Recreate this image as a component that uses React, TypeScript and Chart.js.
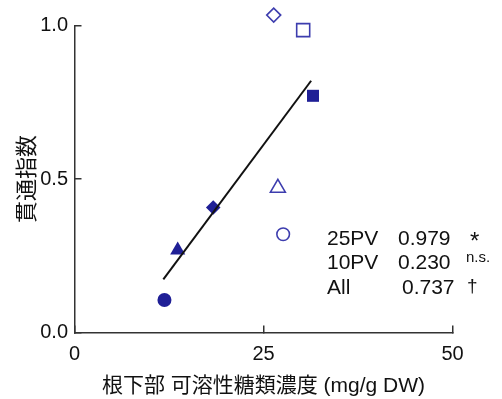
import React, { useEffect, useRef } from "react";
import { Chart, registerables } from "chart.js";

Chart.register(...registerables);

// ---- data ----
const xTicks = [0, 25, 50];
const yTicks = [0, 0.5, 1.0];
const xTitle = "根下部 可溶性糖類濃度 (mg/g DW)";
const yTitle = "貫通指数";

const filledX = [11.9, 13.65, 18.35, 31.55];
const filledY = [0.106, 0.268, 0.407, 0.771];
const filledShapes = ["circle", "triangle", "rectRot", "rect"];

const openX = [26.35, 30.25, 26.9, 27.6];
const openY = [1.034, 0.985, 0.471, 0.32];
const openShapes = ["rectRot", "rect", "triangle", "circle"];

const fitX = [11.75, 31.3];
const fitY = [0.173, 0.82];

const statLabels = ["25PV", "10PV", "All"];
const statValues = ["0.979", "0.230", "0.737"];
const statMarks = ["*", "n.s.", "†"];

const FONT = "'Liberation Sans', 'Noto Sans CJK JP', Arial, sans-serif";
const AXIS = "#333333";
const FILLED = "#1f1f96";
const OPEN = "#3d3dae";

const radiusFor = (s: string, open: boolean) => {
  if (s === "circle") return open ? 6.3 : 7;
  if (s === "triangle") return open ? 8.6 : 8.7;
  if (s === "rectRot") return open ? 7 : 7.3;
  return open ? 9.2 : 8.5;
};

// let markers that sit just above the top of the axis (value > 1.0) still be drawn
const overflowPlugin = {
  id: "overflow",
  beforeDatasetsDraw(chart: any) {
    const a = chart.chartArea;
    chart.$savedArea = a;
    chart.chartArea = { ...a, top: a.top - 25 };
  },
  afterDatasetsDraw(chart: any) {
    if (chart.$savedArea) chart.chartArea = chart.$savedArea;
  },
};

const statsPlugin = {
  id: "stats",
  afterDraw(chart: any) {
    const ctx = chart.ctx;
    ctx.save();
    ctx.fillStyle = "#111";
    ctx.textBaseline = "alphabetic";
    ctx.textAlign = "left";
    const baselines = [244.5, 269, 293.5];
    statLabels.forEach((lab, i) => {
      ctx.font = `21px ${FONT}`;
      ctx.fillText(lab, 327, baselines[i]);
      ctx.fillText(statValues[i], i === 2 ? 402 : 398, baselines[i]);
    });
    ctx.font = `24px ${FONT}`;
    ctx.fillText(statMarks[0], 470, baselines[0] + 4);
    ctx.font = `15px ${FONT}`;
    ctx.fillText(statMarks[1], 466, 262);
    ctx.font = `19px ${FONT}`;
    ctx.fillText(statMarks[2], 467, 292);
    ctx.restore();
  },
};

export default function App() {
  const ref = useRef<HTMLCanvasElement>(null);
  useEffect(() => {
    if (!ref.current) return;
    const chart = new Chart(ref.current, {
      type: "scatter",
      data: {
        datasets: [
          {
            type: "line",
            data: fitX.map((x, i) => ({ x, y: fitY[i] })),
            borderColor: "#111",
            borderWidth: 2,
            pointRadius: 0,
            showLine: true,
            fill: false,
          } as any,
          {
            data: filledX.map((x, i) => ({ x, y: filledY[i] })),
            pointStyle: filledShapes as any,
            pointRadius: filledShapes.map((s) => radiusFor(s, false)),
            backgroundColor: FILLED,
            borderColor: FILLED,
            borderWidth: 0,
            clip: false as any,
          },
          {
            data: openX.map((x, i) => ({ x, y: openY[i] })),
            pointStyle: openShapes as any,
            pointRadius: openShapes.map((s) => radiusFor(s, true)),
            backgroundColor: "rgba(255,255,255,0)",
            borderColor: OPEN,
            borderWidth: 1.6,
            clip: false as any,
          },
        ],
      },
      options: {
        responsive: false,
        animation: false,
        layout: { padding: { top: 25, right: 49.5, left: 0, bottom: 0 } },
        plugins: { legend: { display: false }, tooltip: { enabled: false } },
        scales: {
          x: {
            type: "linear",
            min: xTicks[0],
            max: xTicks[xTicks.length - 1],
            afterBuildTicks: (s: any) => {
              s.ticks = xTicks.map((v) => ({ value: v }));
            },
            afterFit: (s: any) => {
              s.height = 66.5;
            },
            ticks: {
              padding: 17,
              color: "#111",
              font: { family: FONT, size: 20 },
              callback: (v: any) => String(v),
            },
            grid: {
              display: true,
              drawOnChartArea: false,
              drawTicks: true,
              tickLength: -7,
              color: AXIS,
              lineWidth: 1.5,
            },
            border: { display: true, color: AXIS, width: 1.5 },
            title: {
              display: true,
              text: xTitle,
              color: "#111",
              font: { family: FONT, size: 21 },
              padding: { top: 0, bottom: 0 },
            },
          },
          y: {
            type: "linear",
            min: yTicks[0],
            max: yTicks[yTicks.length - 1],
            afterBuildTicks: (s: any) => {
              s.ticks = yTicks.map((v) => ({ value: v }));
            },
            afterFit: (s: any) => {
              s.width = 74.5;
            },
            ticks: {
              padding: 13.5,
              color: "#111",
              font: { family: FONT, size: 20 },
              callback: (v: any) => Number(v).toFixed(1),
            },
            grid: {
              display: true,
              drawOnChartArea: false,
              drawTicks: true,
              tickLength: -7,
              color: AXIS,
              lineWidth: 1.5,
            },
            border: { display: true, color: AXIS, width: 1.5 },
            title: {
              display: true,
              text: yTitle,
              color: "#111",
              font: { family: "'Noto Sans CJK JP', sans-serif", size: 22 },
              padding: { top: 12, bottom: 12 },
            },
          },
        },
      },
      plugins: [overflowPlugin, statsPlugin],
    });
    return () => chart.destroy();
  }, []);
  return (
    <div style={{ position: "fixed", left: 0, top: 0, width: 502, height: 399, background: "#fff" }}>
      <canvas ref={ref} width={502} height={399} style={{ display: "block" }} />
    </div>
  );
}
